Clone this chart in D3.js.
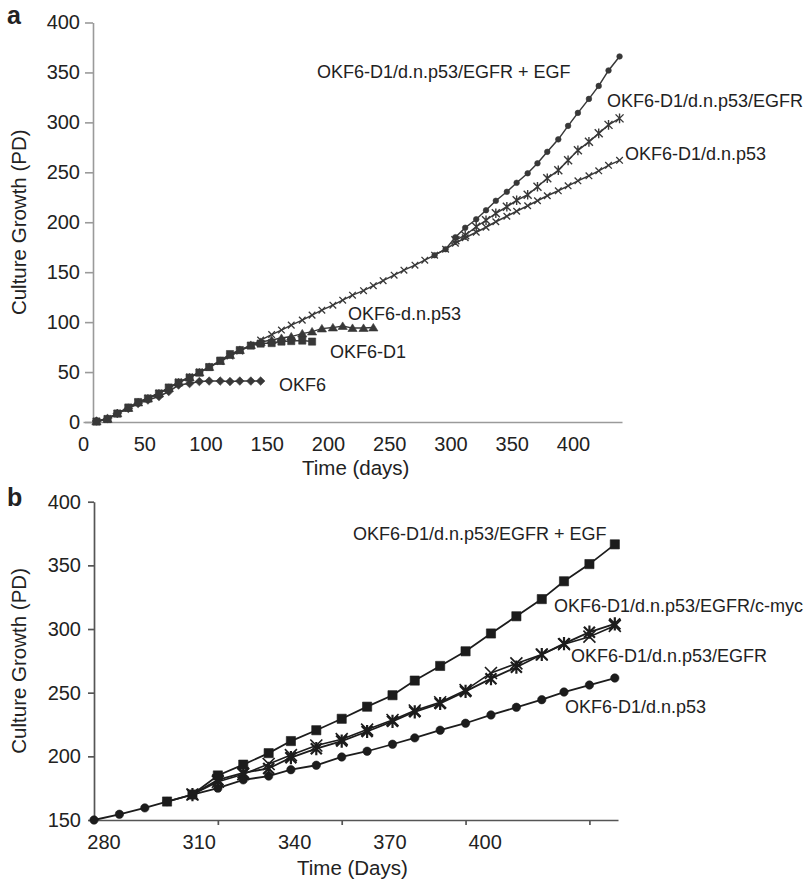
<!DOCTYPE html>
<html>
<head>
<meta charset="utf-8">
<script src="https://cdn.jsdelivr.net/npm/d3@7"></script>
<style>
  body { margin: 0; background: #fff; }
  svg text { font-family: "Liberation Sans", Arial, Helvetica, sans-serif; fill: #222; }
</style>
</head>
<body>
<svg id="chart" width="808" height="883"></svg>
<script>
// ---------------- Panel a: culture growth over the full time course ----------------
const daysA = [11, 20, 28, 37, 45, 53, 62, 70, 78, 87, 95, 103, 112, 120, 128, 137, 145, 154,
  162, 170, 179, 187, 195, 204, 212, 220, 229, 237, 245, 254, 262, 271, 279, 287, 296, 304,
  312, 321, 329, 337, 346, 354, 363, 371, 379, 388, 396, 404, 413, 421, 429, 438];
const yTicksA = [0, 50, 100, 150, 200, 250, 300, 350, 400];
const xTicksA = [0, 50, 100, 150, 200, 250, 300, 350, 400];

// population doublings; each series begins at the listed index of daysA
const okf6A = [1, 3.5, 8.5, 13.5, 18.5, 22, 25.5, 30.5, 37, 38.5, 40.5, 41, 41, 40.5, 41, 41, 41];
const d1A = [0.5, 3, 8.5, 14.5, 20, 23.5, 28.5, 34.5, 39.5, 44.5, 49.5, 55, 61.5, 68, 72, 76.5,
  78.5, 79, 80.5, 81, 81.5, 80.5];
const dnp53A = [0.5, 3, 8.5, 14, 19.5, 23.5, 28.5, 34, 39.5, 44.5, 49.5, 55, 61, 67, 72, 77,
  80, 82, 84, 85.5, 88.5, 90.5, 93.5, 94.5, 96, 94, 94, 94.5];
const d1dnp53A = [0.5, 3, 8.5, 14, 19.5, 24, 29, 34.5, 40, 45, 50, 55, 60.5, 66, 71, 76.5, 82,
  87.5, 92, 97, 102, 107, 112, 117, 122, 127, 131.5, 136.5, 141.5, 147, 152, 157, 162, 167,
  173, 179, 184.5, 190, 195, 200.5, 206, 211, 216.5, 221.5, 226.5, 231.5, 236.5, 241.5, 246.5,
  251.5, 257, 262];
const egfrA = [182, 187, 195.5, 202, 209, 215.5, 222, 227.5, 235.5, 244, 252, 262, 272, 280.5,
  289, 297.5, 304];
const egfrEgfA = [167, 173, 185, 194.5, 203, 212, 221.5, 230.5, 239.5, 249, 259, 270.5, 283,
  296.5, 309.5, 323.5, 336.5, 352, 366];
const startA = { d1dnp53: 0, okf6: 0, dnp53: 0, d1: 0, egfr: 35, egfrEgf: 33 };

// ---------------- Panel b: detail of the late time course ----------------
const daysB = [277, 285, 293, 300, 308, 316, 324, 332, 339, 347, 355, 363, 371, 378, 386, 394,
  402, 410, 418, 425, 433, 441];
const yTicksB = [150, 200, 250, 300, 350, 400];
const xLabelTicksB = [280, 310, 340, 370, 400];
const xMarkTicksB = [316, 355, 394, 433];

const d1dnp53B = [150, 154.5, 159.5, 164.5, 170, 175, 181.5, 184.5, 189.5, 193, 199.5, 204,
  209.5, 214.5, 220.5, 226, 232.5, 238.5, 244.5, 250.5, 256, 261.5];
const egfrEgfB = [164.5, 170, 185, 193.5, 202.5, 212, 220.5, 229.5, 239, 248, 259.5, 271, 282.5,
  296.5, 310, 323.5, 337.5, 351, 366.5];
const egfrB = [170, 181.5, 187, 190.5, 199, 206, 212, 219.5, 227.5, 235, 241.5, 251, 261, 270,
  280, 288.5, 297.5, 304];
const mycB = [170, 180, 186, 194, 201, 208.5, 213.5, 221, 228.5, 236, 242.5, 252, 265.5, 273,
  280, 288, 294, 302.5];
const startB = { d1dnp53: 0, egfrEgf: 3, egfr: 4, myc: 4 };

// ---------------- helpers ----------------
const svg = d3.select("#chart");

function markerPath(type, s) {
  switch (type) {
    case "square": return `M${-s},${-s}h${2 * s}v${2 * s}h${-2 * s}Z`;
    case "diamond": return `M0,${-s}L${s},0L0,${s}L${-s},0Z`;
    case "triangle": return `M0,${-s}L${s * 1.1},${s * 0.8}L${-s * 1.1},${s * 0.8}Z`;
    case "circle": return `M${s},0A${s},${s} 0 1,1 ${-s},0A${s},${s} 0 1,1 ${s},0Z`;
    case "cross": return `M${-s},${-s}L${s},${s}M${-s},${s}L${s},${-s}`;
    case "star": return `M${-s},${-s}L${s},${s}M${-s},${s}L${s},${-s}M0,${-s * 1.2}V${s * 1.2}`;
  }
}

function drawSeries(g, x, y, days, start, values, opt) {
  const pts = values.map((v, i) => [x(days[start + i]), y(v)]);
  g.append("path")
    .attr("d", d3.line()(pts))
    .attr("fill", "none")
    .attr("stroke", opt.color)
    .attr("stroke-width", opt.lineWidth);
  const filled = !(opt.marker === "cross" || opt.marker === "star");
  g.append("g").selectAll("path")
    .data(pts)
    .join("path")
    .attr("transform", d => `translate(${d[0]},${d[1]})`)
    .attr("d", markerPath(opt.marker, opt.size))
    .attr("fill", filled ? opt.color : "none")
    .attr("stroke", opt.color)
    .attr("stroke-width", filled ? 0.6 : opt.markerStroke);
}

function styleAxis(g, color, width, fontSize) {
  g.selectAll(".domain").attr("stroke", color).attr("stroke-width", width);
  g.selectAll(".tick line").attr("stroke", color).attr("stroke-width", width);
  g.selectAll(".tick text").attr("font-size", fontSize).attr("fill", "#222")
    .attr("font-family", '"Liberation Sans", Arial, sans-serif');
}

// ---------------- panel a ----------------
const xA = d3.scaleLinear().domain([0, 440]).range([83, 622]);
const yA = d3.scaleLinear().domain([0, 400]).range([422, 22.5]);
const gA = svg.append("g");

const axisGrey = "#9a9a9a";
gA.append("g")
  .attr("transform", `translate(0,${yA(0)})`)
  .call(d3.axisBottom(xA).tickValues(xTicksA).tickSize(0).tickSizeOuter(0).tickPadding(15))
  .call(g => styleAxis(g, axisGrey, 1.6, 20));
gA.append("g")
  .attr("transform", "translate(93,0)")
  .call(d3.axisLeft(yA).tickValues(yTicksA).tickSize(8).tickSizeOuter(0).tickPadding(5))
  .call(g => styleAxis(g, axisGrey, 1.6, 20));

const lineA = "#383838";
drawSeries(gA, xA, yA, daysA, startA.d1dnp53, d1dnp53A, { color: lineA, lineWidth: 1.5, marker: "cross", size: 3.3, markerStroke: 1.3 });
drawSeries(gA, xA, yA, daysA, startA.okf6, okf6A, { color: lineA, lineWidth: 1.5, marker: "diamond", size: 4.3 });
drawSeries(gA, xA, yA, daysA, startA.dnp53, dnp53A, { color: lineA, lineWidth: 1.5, marker: "triangle", size: 4.2 });
drawSeries(gA, xA, yA, daysA, startA.d1, d1A, { color: lineA, lineWidth: 1.5, marker: "square", size: 3.6 });
drawSeries(gA, xA, yA, daysA, startA.egfr, egfrA, { color: lineA, lineWidth: 1.5, marker: "star", size: 4, markerStroke: 1.4 });
drawSeries(gA, xA, yA, daysA, startA.egfrEgf, egfrEgfA, { color: lineA, lineWidth: 1.5, marker: "circle", size: 2.8 });

const labelsA = [
  { t: "OKF6-D1/d.n.p53/EGFR + EGF", x: 317, y: 78 },
  { t: "OKF6-D1/d.n.p53/EGFR", x: 607, y: 106.5 },
  { t: "OKF6-D1/d.n.p53", x: 625, y: 159.5 },
  { t: "OKF6-d.n.p53", x: 348, y: 319.5 },
  { t: "OKF6-D1", x: 330, y: 357.5 },
  { t: "OKF6", x: 279, y: 390.5 }
];
gA.selectAll("text.lab").data(labelsA).join("text")
  .attr("class", "lab").attr("x", d => d.x).attr("y", d => d.y)
  .attr("font-size", 18).text(d => d.t);

gA.append("text").attr("x", 7).attr("y", 24).attr("font-size", 25)
  .attr("font-weight", "bold").attr("fill", "#111").text("a");
gA.append("text").attr("x", 302).attr("y", 475).attr("font-size", 20.5).text("Time (days)");
gA.append("text").attr("transform", `translate(26,${(yA(0) + yA(400)) / 2}) rotate(-90)`)
  .attr("text-anchor", "middle").attr("font-size", 20.5).text("Culture Growth (PD)");

// ---------------- panel b ----------------
const xB = d3.scaleLinear().domain([277, 442]).range([94, 618]);
const yB = d3.scaleLinear().domain([150, 400]).range([820, 501.7]);
const gB = svg.append("g");

const axisDark = "#555";
gB.append("g")
  .attr("transform", `translate(0,${yB(150)})`)
  .call(d3.axisBottom(xB).tickValues(xLabelTicksB).tickSize(0).tickSizeOuter(0).tickPadding(15))
  .call(g => styleAxis(g, axisDark, 1.7, 20));
gB.append("g")
  .attr("transform", `translate(0,${yB(150)})`)
  .call(d3.axisBottom(xB).tickValues(xMarkTicksB).tickSize(5).tickFormat(""))
  .call(g => g.select(".domain").remove())
  .call(g => styleAxis(g, axisDark, 1.7, 20));
gB.append("g")
  .attr("transform", `translate(${xB(277)},0)`)
  .call(d3.axisLeft(yB).tickValues(yTicksB).tickSize(6).tickSizeOuter(0).tickPadding(7))
  .call(g => styleAxis(g, axisDark, 1.7, 20));

const lineB = "#1c1c1c";
drawSeries(gB, xB, yB, daysB, startB.d1dnp53, d1dnp53B, { color: lineB, lineWidth: 1.8, marker: "circle", size: 4.2 });
drawSeries(gB, xB, yB, daysB, startB.myc, mycB, { color: lineB, lineWidth: 1.6, marker: "cross", size: 6, markerStroke: 1.6 });
drawSeries(gB, xB, yB, daysB, startB.egfr, egfrB, { color: lineB, lineWidth: 1.8, marker: "star", size: 5.5, markerStroke: 2.2 });
drawSeries(gB, xB, yB, daysB, startB.egfrEgf, egfrEgfB, { color: lineB, lineWidth: 1.8, marker: "square", size: 4.6 });

const labelsB = [
  { t: "OKF6-D1/d.n.p53/EGFR + EGF", x: 353, y: 540 },
  { t: "OKF6-D1/d.n.p53/EGFR/c-myc", x: 554, y: 612 },
  { t: "OKF6-D1/d.n.p53/EGFR", x: 571, y: 662 },
  { t: "OKF6-D1/d.n.p53", x: 565, y: 712.5 }
];
gB.selectAll("text.lab").data(labelsB).join("text")
  .attr("class", "lab").attr("x", d => d.x).attr("y", d => d.y)
  .attr("font-size", 18).text(d => d.t);

gB.append("text").attr("x", 7).attr("y", 506).attr("font-size", 25)
  .attr("font-weight", "bold").attr("fill", "#111").text("b");
gB.append("text").attr("x", 297).attr("y", 875).attr("font-size", 20.5).text("Time (Days)");
gB.append("text").attr("transform", `translate(26,${(yB(150) + yB(400)) / 2}) rotate(-90)`)
  .attr("text-anchor", "middle").attr("font-size", 20.5).text("Culture Growth (PD)");
</script>
</body>
</html>
